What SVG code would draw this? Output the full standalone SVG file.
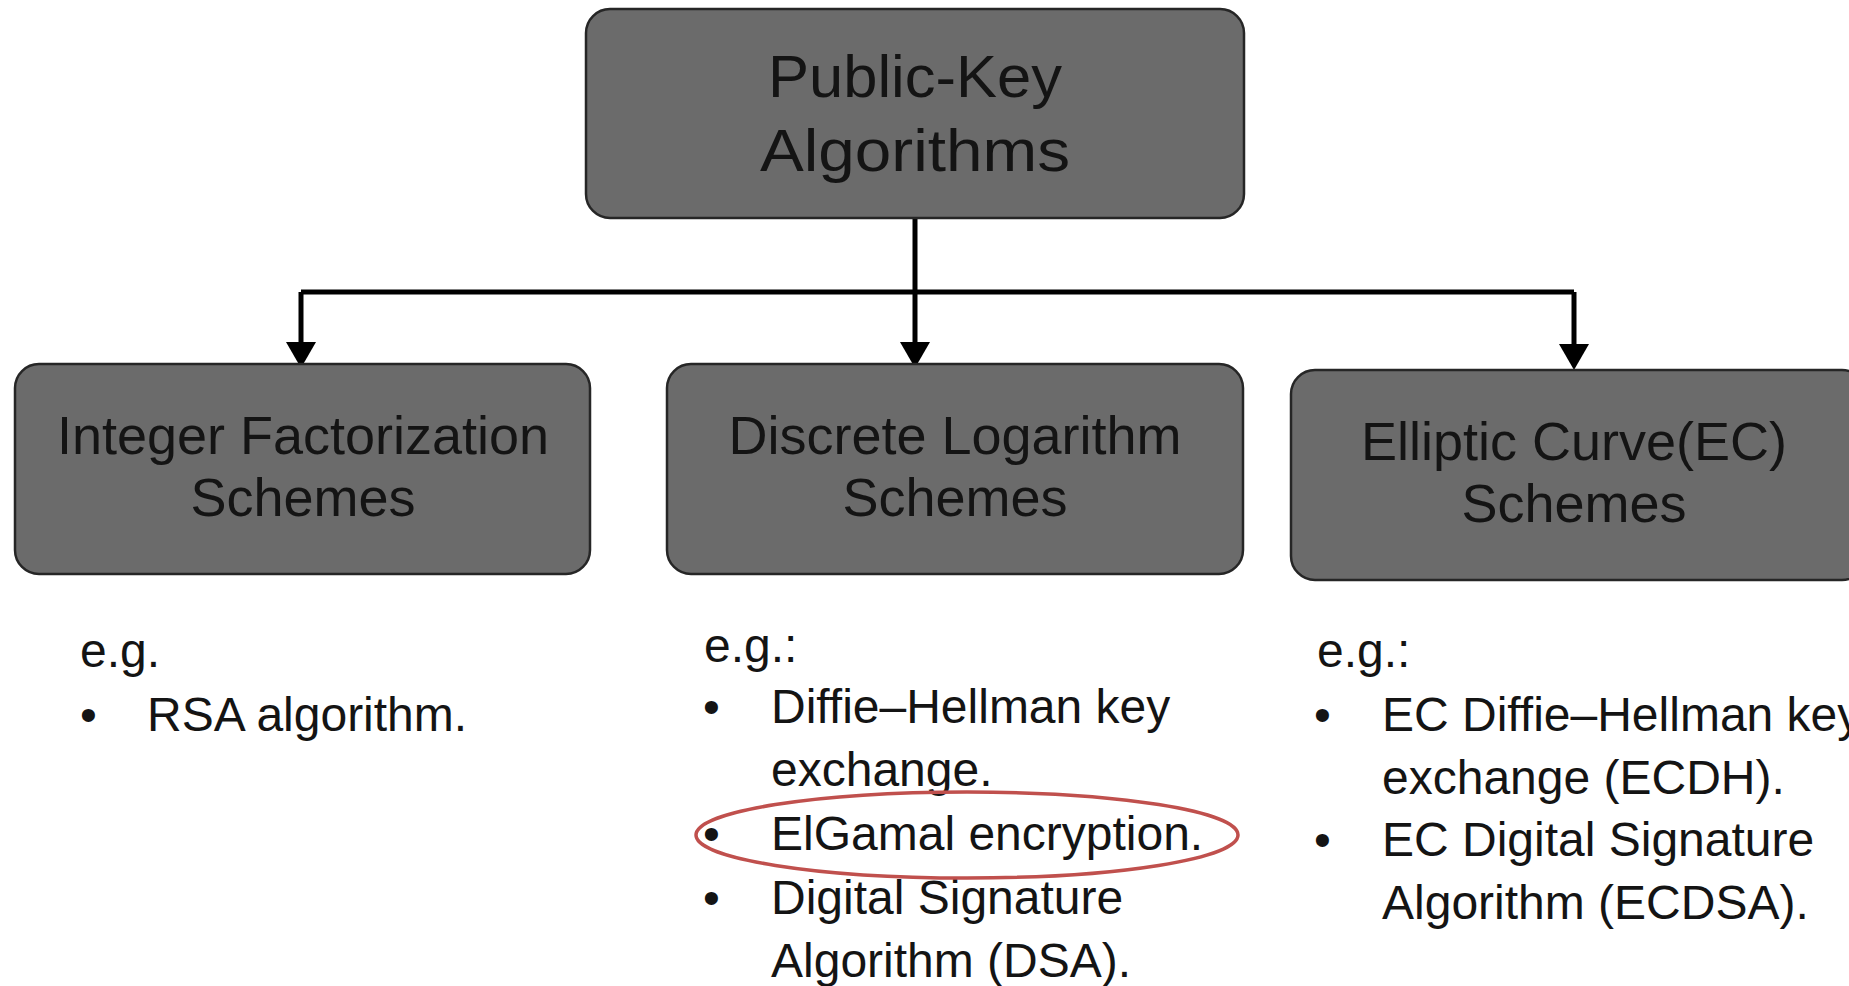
<svg xmlns="http://www.w3.org/2000/svg" width="1849" height="986" viewBox="0 0 1849 986">
<style>
.box{fill:#6b6b6b;stroke:#262626;stroke-width:2.5}
.t{font-family:"Liberation Sans",Arial,sans-serif;fill:#141414}
.title{font-size:60px;text-anchor:middle}
.sub{font-size:54px;text-anchor:middle}
.li{font-size:48px}
.conn{fill:none;stroke:#000;stroke-width:5}
</style>
<rect width="1849" height="986" fill="#fff"/>
<g id="connectors">
<path class="conn" d="M915 216 V292"/>
<path class="conn" d="M301 292 H1574"/>
<path class="conn" d="M301 292 V342"/>
<polygon points="286,342 316,342 301,368" fill="#000"/>
<path class="conn" d="M915 292 V342"/>
<polygon points="900,342 930,342 915,368" fill="#000"/>
<path class="conn" d="M1574 292 V344"/>
<polygon points="1559,344 1589,344 1574,370" fill="#000"/>
</g>
<g id="node-root">
<rect class="box" x="586" y="9" width="658" height="209" rx="24"/>
<text class="t title" x="915" y="97" textLength="294" lengthAdjust="spacingAndGlyphs">Public-Key</text>
<text class="t title" x="915" y="171" textLength="310" lengthAdjust="spacingAndGlyphs">Algorithms</text>
</g>
<g id="node-integer">
<rect class="box" x="15" y="364" width="575" height="210" rx="24"/>
<text class="t sub" x="303" y="454">Integer Factorization</text>
<text class="t sub" x="303" y="516">Schemes</text>
</g>
<g id="node-discrete">
<rect class="box" x="667" y="364" width="576" height="210" rx="24"/>
<text class="t sub" x="955" y="454">Discrete Logarithm</text>
<text class="t sub" x="955" y="516">Schemes</text>
</g>
<g id="node-elliptic">
<rect class="box" x="1291" y="370" width="575" height="210" rx="24"/>
<text class="t sub" x="1574" y="460">Elliptic Curve(EC)</text>
<text class="t sub" x="1574" y="522">Schemes</text>
</g>
<g id="list-integer">
<text class="t li" x="80" y="667">e.g.</text>
<text class="t li" x="80" y="731">•</text>
<text class="t li" x="147" y="731">RSA algorithm.</text>
</g>
<g id="list-discrete">
<text class="t li" x="704" y="662">e.g.:</text>
<text class="t li" x="703" y="723">•</text>
<text class="t li" x="771" y="723">Diffie–Hellman key</text>
<text class="t li" x="771" y="786">exchange.</text>
<text class="t li" x="703" y="850">•</text>
<text class="t li" x="771" y="850">ElGamal encryption.</text>
<text class="t li" x="703" y="914">•</text>
<text class="t li" x="771" y="914">Digital Signature</text>
<text class="t li" x="771" y="977">Algorithm (DSA).</text>
<ellipse cx="967" cy="835" rx="271" ry="43" fill="none" stroke="#c0504d" stroke-width="3.5"/>
</g>
<g id="list-elliptic">
<text class="t li" x="1317" y="667">e.g.:</text>
<text class="t li" x="1314" y="731">•</text>
<text class="t li" x="1382" y="731">EC Diffie–Hellman key</text>
<text class="t li" x="1382" y="794">exchange (ECDH).</text>
<text class="t li" x="1314" y="856">•</text>
<text class="t li" x="1382" y="856">EC Digital Signature</text>
<text class="t li" x="1382" y="919">Algorithm (ECDSA).</text>
</g>
</svg>
